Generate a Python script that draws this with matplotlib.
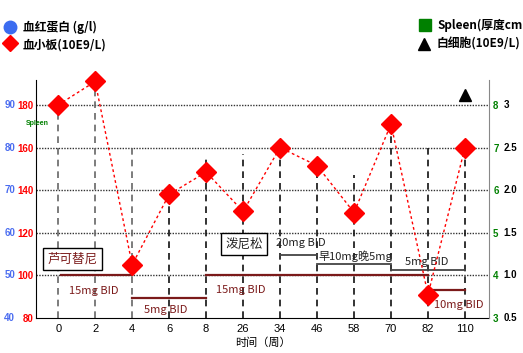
import matplotlib
matplotlib.use('Agg')
import matplotlib.pyplot as plt

plt.rcParams['font.family'] = ['Liberation Sans', 'Noto Sans CJK SC', 'DejaVu Sans']
CJK = ['Noto Sans CJK SC', 'DejaVu Sans']

# 时间（周）
weeks = ['0', '2', '4', '6', '8', '26', '34', '46', '58', '70', '82', '110']
# 血小板 (10E9/L)
platelet = [180, 191, 105, 138, 148.5, 130, 160, 151.5, 129.5, 171, 91, 160]
# height of the dashed week markers (platelet scale)
marker_top = [180, 191, 160, 138, 155.5, 157, 160, 156, 147, 171, 160, 160]
# 白细胞 (10E9/L)
wbc_week = [11]
wbc = [3.12]

left_ticks = [80, 100, 120, 140, 160, 180]
hb_labels = ['40', '50', '60', '70', '80', '90']
spleen_ticks = [3, 4, 5, 6, 7, 8]
wbc_labels = ['0.5', '1.0', '1.5', '2.0', '2.5', '3']

# 芦可替尼 doses: (start idx, end idx, level, label, label x, label y)
rux = [(0.08, 2, 100, '15mg BID', 0.95, 92.7),
       (2, 4, 89.5, '5mg BID', 2.92, 83.8),
       (4, 10, 100, '15mg BID', 4.95, 93),
       (10, 11, 93, '10mg BID', 10.84, 86)]
# 泼尼松 doses
pred = [(6, 7, 109.6, '20mg BID', 6.57, 115.2),
        (7, 9, 105.4, '早10mg晚5mg', 8.05, 108.8),
        (9, 11, 102.5, '5mg BID', 9.97, 106.5)]

ylo, yhi = 80, 191.7


def wbc_to_plt(v):
    return 80 + (v - 0.5) * 40


fig = plt.figure(figsize=(5.23, 3.53), dpi=100)
ax = fig.add_axes([36 / 523, 1 - 318 / 353, (489 - 36) / 523, (318 - 80) / 353])
x = list(range(len(weeks)))

# gridlines
for t in left_ticks[1:]:
    ax.axhline(t, color='#333333', lw=1, ls=(0, (1, 1)), zorder=1)

# dashed week markers
for i, top in enumerate(marker_top):
    c = '#666666' if i < 3 else '#111111'
    ax.plot([i, i], [ylo, top], color=c, lw=1.2, ls=(0, (4, 3)), zorder=2)

# treatment lines
for s, e, lvl, lab, tx, ty in rux:
    ax.plot([s, e], [lvl, lvl], color='#7b1a1a', lw=1.6, zorder=3)
    ax.text(tx, ty, lab, color='#7b1a1a', fontsize=8, ha='center', va='center', family=CJK)
for s, e, lvl, lab, tx, ty in pred:
    ax.plot([s, e], [lvl, lvl], color='#444444', lw=1.3, zorder=3)
    ax.text(tx, ty, lab, color='#222222', fontsize=8, ha='center', va='center', family=CJK)

box = dict(boxstyle='square,pad=0.35', fc='white', ec='black', lw=1)
ax.text(0.38, 107.7, '芦可替尼', color='#7b1a1a', fontsize=9, ha='center', va='center', family=CJK, bbox=box)
ax.text(5.03, 114.7, '泼尼松', color='#222222', fontsize=9, ha='center', va='center', family=CJK, bbox=box)

# platelet series
ax.plot(x, platelet, color='red', lw=1, ls=(0, (2, 2)), marker='D', markersize=10,
        markerfacecolor='red', markeredgecolor='red', zorder=5, clip_on=False)
# WBC
ax.plot(wbc_week, [wbc_to_plt(v) for v in wbc], 'k^', markersize=9, zorder=5, clip_on=False)

ax.set_xlim(-0.6, 11.65)
ax.set_ylim(ylo, yhi)
ax.set_xticks(x)
ax.set_xticklabels(weeks, fontsize=8)
ax.set_yticks(left_ticks)
ax.set_yticklabels([str(t) for t in left_ticks], color='red', fontsize=7, fontweight='bold')
ax.tick_params(length=0, pad=2)
ax.tick_params(axis='x', pad=4)
ytf = ax.get_yaxis_transform()
for i, t in enumerate(left_ticks):
    ax.text(-0.046, t, hb_labels[i], color='#4a6cf0', fontsize=7, fontweight='bold',
            ha='right', va='center', transform=ytf)
ax.text(-0.022, 171.5, 'Spleen', color='green', fontsize=5, fontweight='bold',
        ha='left', va='center', transform=ytf)
ax.spines['top'].set_visible(False)
ax.spines['right'].set_visible(False)
ax.set_xlabel('时间（周）', fontsize=8, family=CJK, labelpad=3)

ax2 = ax.twinx()
ax2.set_ylim(3 + (ylo - 80) / 20, 3 + (yhi - 80) / 20)
ax2.set_yticks(spleen_ticks)
ax2.set_yticklabels([str(t) for t in spleen_ticks], color='green', fontsize=7, fontweight='bold')
ax2.tick_params(length=0, pad=3)
for s in ['top', 'left', 'bottom']:
    ax2.spines[s].set_visible(False)
ax2.spines['right'].set_color('#888888')
for i, t in enumerate(spleen_ticks):
    ax2.text(12.05, t, wbc_labels[i], color='black', fontsize=7, fontweight='bold',
             ha='left', va='center')

# legend in pixel coords
lax = fig.add_axes([0, 0, 1, 1])
lax.set_xlim(0, 523)
lax.set_ylim(353, 0)
lax.axis('off')
lax.plot(10, 27, 'o', color='#3b6cf0', markersize=9)
lax.plot(10, 43, 'D', color='red', markersize=8)
lax.plot(425, 25, 's', color='green', markersize=9)
lax.plot(424, 44, '^', color='black', markersize=9)
lax.text(23, 27, '血红蛋白 (g/l)', fontsize=8.5, fontweight='bold', va='center', family=CJK)
lax.text(23, 45, '血小板(10E9/L)', fontsize=8.5, fontweight='bold', va='center', family=CJK)
lax.text(437, 25, 'Spleen(厚度cm', fontsize=8.5, fontweight='bold', va='center', family=CJK)
lax.text(437, 44, '白细胞(10E9/L)', fontsize=8.5, fontweight='bold', va='center', family=CJK)

fig.savefig('out.png', dpi=100)
